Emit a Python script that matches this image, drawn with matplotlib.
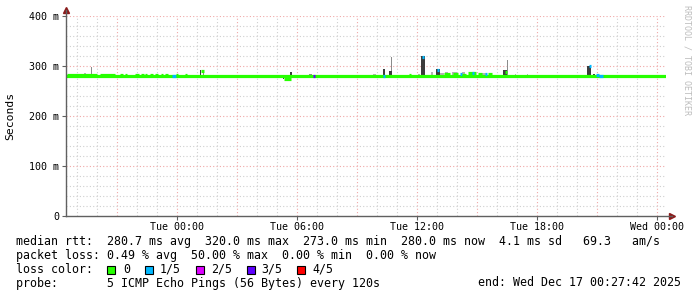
import matplotlib
matplotlib.use('Agg')
import matplotlib.pyplot as plt
from matplotlib.patches import Rectangle

# window: Mon Dec 15 18:27:42 -> Wed Dec 17 00:27:42 2025 (30 h), x in hours from start
span_h = 30.0
first_hour = 0.5383          # 19:00 after start
base_rtt = 280.0             # ms, median most of the time

# median rtt segments: start h, end h, ms, lost pings
med_start = [0.05, 1.70, 2.70, 2.95, 3.45, 3.75, 3.95, 4.20, 4.45, 4.75, 4.95, 5.30, 5.50, 5.95,
             6.75, 10.90, 12.35, 15.85, 17.15, 17.80, 18.55, 18.90, 19.35, 19.70, 19.80,
             20.10, 20.30, 20.60, 20.95, 21.10, 21.95, 26.15, 26.50, 26.65]
med_end = [1.55, 2.45, 2.85, 3.05, 3.65, 3.90, 4.05, 4.35, 4.60, 4.85, 5.10, 5.50, 5.60, 6.05,
           6.90, 11.25, 12.45, 15.95, 17.25, 17.90, 18.65, 19.20, 19.60, 19.80, 20.00,
           20.50, 20.40, 20.80, 21.05, 21.30, 22.05, 26.25, 26.65, 26.85]
med_ms = [282, 282, 282, 282, 282, 282, 282, 282, 282, 282, 282, 280, 282, 282,
          289, 274, 280, 280, 282, 318, 292, 283, 284, 284, 282,
          285, 286, 283, 283, 284, 288, 299, 282, 280]
med_loss = [0, 0, 0, 0, 0, 0, 0, 0, 0, 0, 0, 1, 0, 0,
            0, 0, 3, 1, 0, 1, 1, 0, 0, 1, 0,
            0, 1, 0, 1, 0, 0, 1, 1, 1]

# smoke (spread of the 5 pings): start h, end h, low ms, high ms, shade
smoke_start = [0.90, 1.25, 6.70, 6.85, 10.85, 11.20, 12.15, 15.35, 15.85, 16.15, 16.25, 17.60,
               17.75, 18.25, 18.50, 18.70, 18.95, 19.30, 19.80, 20.20, 20.80, 21.85, 22.05,
               22.45, 23.05, 26.05, 26.35]
smoke_end = [1.00, 1.30, 6.75, 6.90, 10.90, 11.30, 12.30, 15.50, 15.95, 16.30, 16.30, 17.70,
             17.95, 18.35, 18.70, 18.90, 19.10, 19.55, 19.95, 20.45, 21.05, 22.05, 22.10,
             22.50, 23.10, 26.25, 26.45]
smoke_lo = [280, 280, 280, 278, 273, 280, 280, 280, 280, 280, 290, 280,
            280, 280, 280, 280, 280, 280, 280, 280, 280, 280, 280,
            280, 280, 280, 280]
smoke_hi = [285, 298, 292, 288, 280, 288, 284, 283, 294, 290, 318, 284,
            320, 288, 293, 286, 288, 287, 287, 288, 286, 291, 311,
            284, 283, 299, 283]
smoke_shade = ['l', 'm', 'd', 'm', 'd', 'd', 'm', 'l', 'd', 'd', 'm', 'l',
               'd', 'l', 'd', 'l', 'l', 'l', 'l', 'l', 'l', 'd', 'm',
               'l', 'l', 'd', 'd']

loss_colors = ['#26ff00', '#00b8ff', '#dd00ff', '#5e00ff', '#ff0000']
loss_labels = ['0', '1/5', '2/5', '3/5', '4/5']
shades = {'d': '#3c3c3c', 'm': '#8c8c8c', 'l': '#b4b4b4'}
tick_labels = ['Tue 00:00', 'Tue 06:00', 'Tue 12:00', 'Tue 18:00', 'Wed 00:00']

W, H = 697, 297
fig = plt.figure(figsize=(W / 100, H / 100), dpi=100)
fig.patch.set_facecolor('white')

def fx(px):
    return px / W

def fy(py):
    return 1 - py / H

ax = fig.add_axes([fx(66), fy(215.5), 600 / W, 200 / H])
ax.set_xlim(0, span_h)
ax.set_ylim(0, 400)
for s in ax.spines.values():
    s.set_visible(False)

mono = 'DejaVu Sans Mono'

# grid: hourly dotted, every 3 h red; 20 ms dotted, every 100 ms red
hours = [first_hour + k for k in range(30) if first_hour + k < span_h]
for k, hh in enumerate(hours):
    col = '#f0a8a8' if (k - 2) % 3 == 0 else '#cfcfcf'
    ax.axvline(hh, color=col, lw=0.8, ls=(0, (1, 2)), zorder=0)
for v in range(20, 401, 20):
    col = '#f0a8a8' if v % 100 == 0 else '#cfcfcf'
    ax.axhline(v, color=col, lw=0.8, ls=(0, (1, 2)), zorder=0)

# smoke
for s0, s1, lo, hi, sh in zip(smoke_start, smoke_end, smoke_lo, smoke_hi, smoke_shade):
    ax.bar(s0, hi - lo, width=s1 - s0, bottom=lo, align='edge', color=shades[sh],
           linewidth=0, zorder=2)

# median line
ax.hlines(base_rtt, 0, span_h, colors=loss_colors[0], lw=2.3, zorder=3, capstyle='butt')
for m0, m1, v, l in zip(med_start, med_end, med_ms, med_loss):
    ax.hlines(v, m0, m1, colors=loss_colors[l], lw=2.3, zorder=4, capstyle='butt')

# axis lines with arrows
ax.plot([0, 0], [0, 1.03], color='#606060', lw=1, transform=ax.transAxes, clip_on=False, zorder=5)
ax.plot([0, 1.01], [0, 0], color='#606060', lw=1, transform=ax.transAxes, clip_on=False, zorder=5)
ax.plot([0], [1.03], marker='^', color='#8b1a1a', ms=4, transform=ax.transAxes, clip_on=False)
ax.plot([1.01], [0], marker='>', color='#8b1a1a', ms=4, transform=ax.transAxes, clip_on=False)

ax.set_yticks([0, 100, 200, 300, 400])
ax.set_yticklabels(['0', '100 m', '200 m', '300 m', '400 m'], fontfamily=mono, fontsize=7.2)
ax.set_xticks([first_hour + 5 + 6 * k for k in range(5)])
ax.set_xticklabels(tick_labels, fontfamily=mono, fontsize=7.2)
ax.tick_params(axis='both', length=3, width=0.8, color='#606060', pad=2)
ax.set_ylabel('Seconds', fontfamily=mono, fontsize=8.2, labelpad=10)

fig.text(fx(687), fy(5), 'RRDTOOL / TOBI OETIKER', rotation=-90, fontfamily=mono,
         fontsize=6, color='#bdbdbd', ha='center', va='top')

# legend lines
tx = fx(16)
fig.text(tx, fy(241.5), 'median rtt:  280.7 ms avg  320.0 ms max  273.0 ms min  280.0 ms now  4.1 ms sd   69.3   am/s',
         fontfamily=mono, fontsize=8.4, va='center')
fig.text(tx, fy(255.5), 'packet loss: 0.49 % avg  50.00 % max  0.00 % min  0.00 % now',
         fontfamily=mono, fontsize=8.4, va='center')
fig.text(tx, fy(269.5), 'loss color:', fontfamily=mono, fontsize=8.4, va='center')
sq_x = [107, 145, 196, 247, 297]
lab_x = [123, 160, 211, 261, 312]
for c, lab, sx, lx in zip(loss_colors, loss_labels, sq_x, lab_x):
    fig.add_artist(Rectangle((fx(sx), fy(273.5)), 8 / W, 8 / H, facecolor=c,
                             edgecolor='black', lw=0.8, transform=fig.transFigure))
    fig.text(fx(lx), fy(269.5), lab, fontfamily=mono, fontsize=8.4, va='center')
fig.text(tx, fy(283), 'probe:       5 ICMP Echo Pings (56 Bytes) every 120s',
         fontfamily=mono, fontsize=8.4, va='center')
fig.text(fx(681), fy(283), 'end: Wed Dec 17 00:27:42 2025', fontfamily=mono, fontsize=8.4,
         va='center', ha='right')

fig.savefig('out.png', dpi=100)
